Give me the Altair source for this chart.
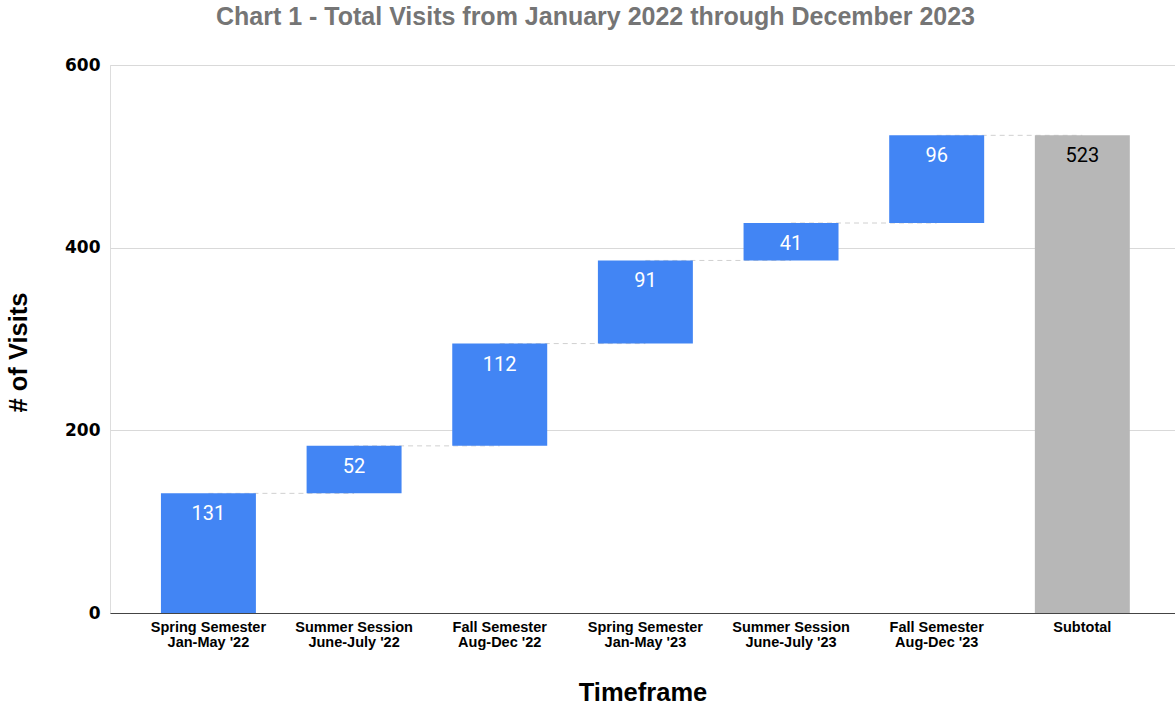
import altair as alt
import pandas as pd

categories = ["Spring Semester\nJan-May '22", "Summer Session\nJune-July '22", "Fall Semester\nAug-Dec '22",
              "Spring Semester\nJan-May '23", "Summer Session\nJune-July '23", "Fall Semester\nAug-Dec '23",
              "Subtotal"]
increments = [131, 52, 112, 91, 41, 96]
subtotal = 523

rows = []
run = 0
for c, v in zip(categories[:-1], increments):
    rows.append({"cat": c, "start": run, "end": run + v, "label": str(v), "kind": "inc"})
    run += v
rows.append({"cat": categories[-1], "start": 0, "end": subtotal, "label": str(subtotal), "kind": "sub"})
df = pd.DataFrame(rows)
df["next_cat"] = categories[1:] + [None]
conn = df[df["next_cat"].notna()]

xscale = alt.Scale(domain=categories, paddingInner=0.348, paddingOuter=0.33, align=0.53)
x = alt.X("cat:N", sort=categories, scale=xscale,
          axis=alt.Axis(title="Timeframe", labelAngle=0, labelAlign="center",
                        labelExpr="split(datum.label, '\\n')",
                        labelFont="Liberation Sans", labelFontWeight="bold", labelFontSize=14.5,
                        labelColor="#000", labelPadding=14, ticks=False, domainColor="#444",
                        domainWidth=1.2, titleFont="Liberation Sans", titleFontSize=25.5,
                        titleFontWeight="bold", titleColor="#000", titlePadding=32,
                        labelLineHeight=15))
yscale = alt.Scale(domain=[0, 600], nice=False)
y = alt.Y("start:Q", scale=yscale,
          axis=alt.Axis(title="# of Visits", values=[0, 200, 400, 600], ticks=False, domain=False,
                        gridColor="#d9d9d9", labelFont="DejaVu Sans", labelFontWeight="bold",
                        labelFontSize=17, labelColor="#000", labelPadding=10,
                        titleFont="Liberation Sans", titleFontSize=25.5, titleFontWeight="bold",
                        titleColor="#000", titlePadding=33, titleY=287))

rules = alt.Chart(conn).mark_rule(strokeDash=[5, 4], color="#d0d0d0", strokeWidth=1).encode(
    x=alt.X("cat:N", sort=categories, scale=xscale),
    x2="next_cat:N",
    y=alt.Y("end:Q", scale=yscale),
)

bars = alt.Chart(df).mark_bar().encode(
    x=x, y=y, y2="end:Q",
    color=alt.Color("kind:N", scale=alt.Scale(domain=["inc", "sub"], range=["#4285F4", "#B7B7B7"]),
                    legend=None),
)

texts = alt.Chart(df).mark_text(font="Roboto", fontSize=20, baseline="middle", dy=21).encode(
    x=alt.X("cat:N", sort=categories, scale=xscale),
    y=alt.Y("end:Q", scale=yscale),
    text="label:N",
    color=alt.Color("kind:N", scale=alt.Scale(domain=["inc", "sub"], range=["#ffffff", "#000000"]),
                    legend=None),
)

chart = alt.layer(rules, bars, texts).resolve_scale(color="independent").properties(
    width=1065, height=548,
    autosize=alt.AutoSizeParams(type="none"),
    padding={"left": 110, "top": 65, "right": 0, "bottom": 93},
    title=alt.TitleParams("Chart 1 - Total Visits from January 2022 through December 2023",
                          font="Liberation Sans", fontSize=25, fontWeight="bold",
                          color="#757575", anchor="middle", dx=-47, offset=26),
).configure_view(stroke=None).configure(background="white")

chart.save("out.html", embed_options={"renderer": "svg", "actions": False})
